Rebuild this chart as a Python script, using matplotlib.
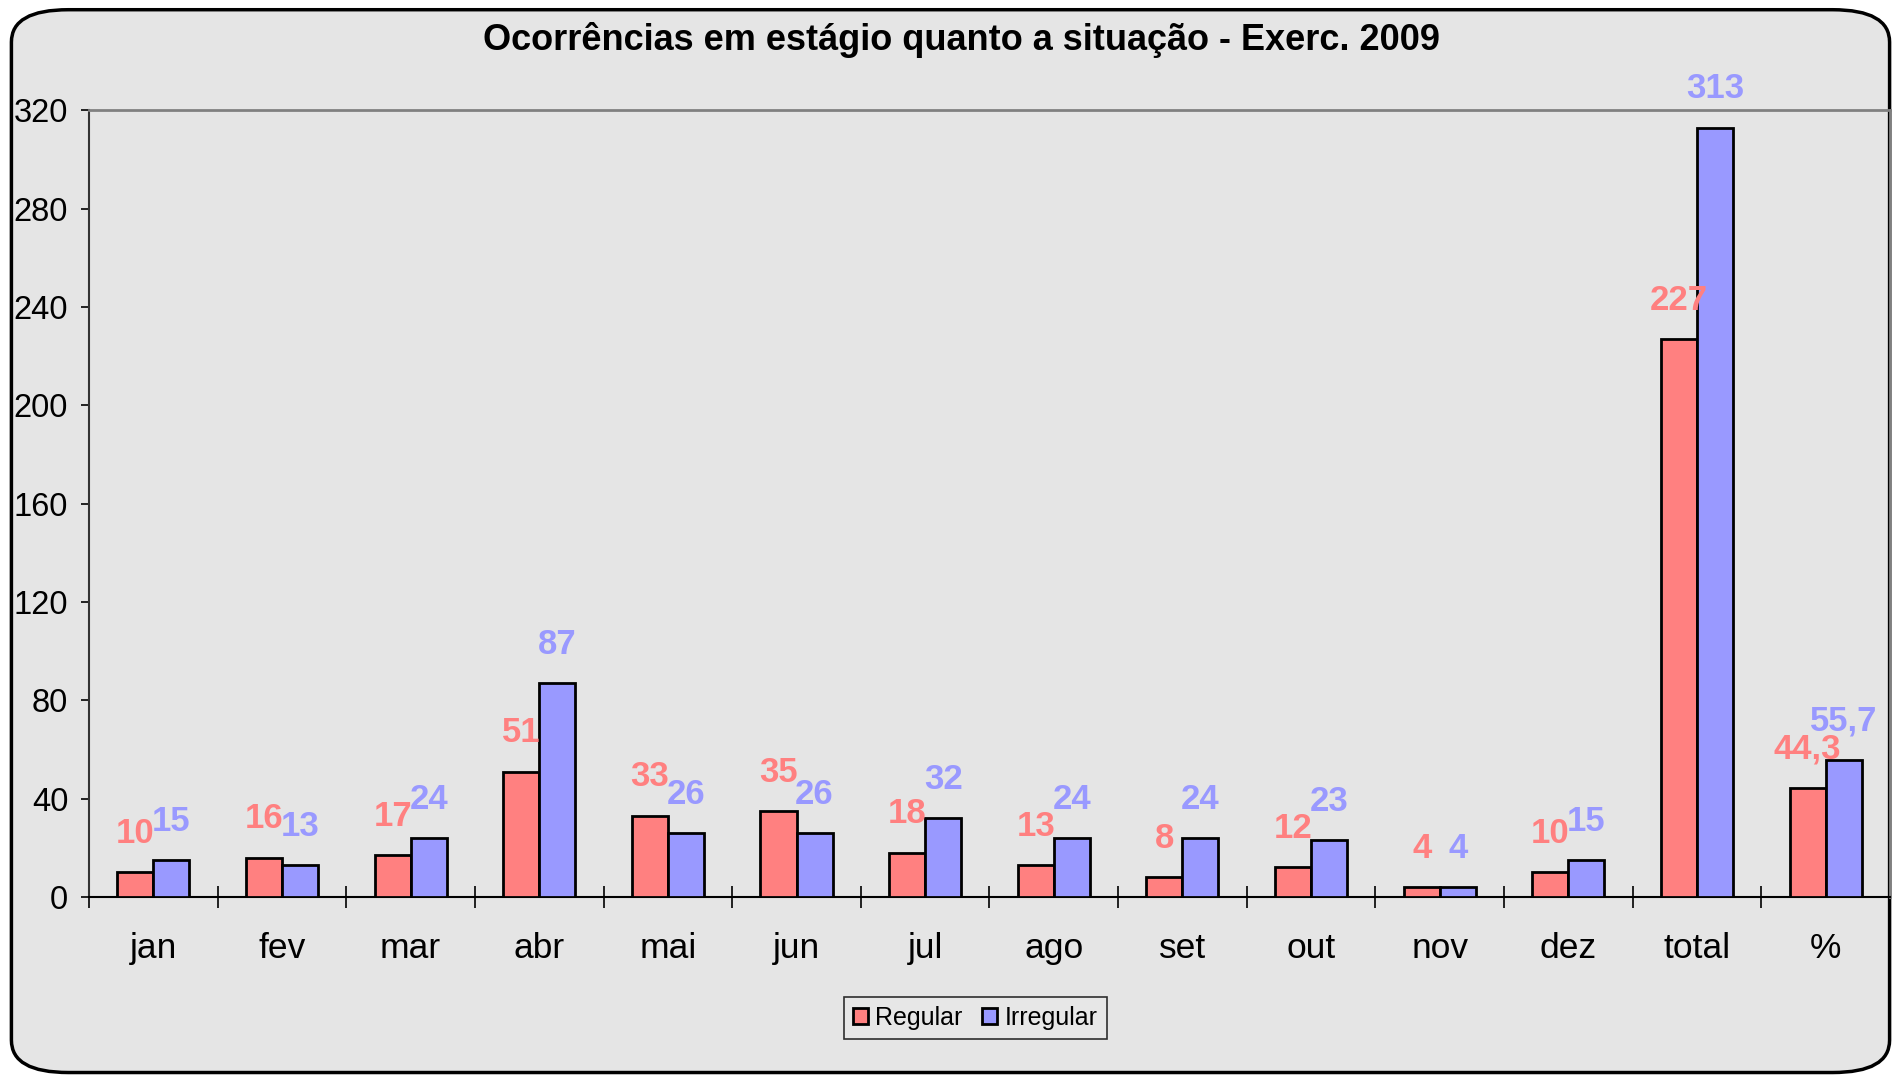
import numpy as np
import matplotlib
matplotlib.use('Agg')
import matplotlib.pyplot as plt
from matplotlib.patches import FancyBboxPatch

plt.rcParams['font.family'] = ['Liberation Sans', 'DejaVu Sans']

# data
categorias = ['jan', 'fev', 'mar', 'abr', 'mai', 'jun', 'jul', 'ago', 'set', 'out', 'nov', 'dez', 'total', '%']
regular = [10, 16, 17, 51, 33, 35, 18, 13, 8, 12, 4, 10, 227, 44.3]
irregular = [15, 13, 24, 87, 26, 26, 32, 24, 24, 23, 4, 15, 313, 55.7]
yticks = [0, 40, 80, 120, 160, 200, 240, 280, 320]

cor_reg = '#FF8080'
cor_irr = '#9999FF'

def fmt(v):
    if float(v).is_integer():
        return str(int(v))
    return ('%.1f' % v).replace('.', ',')

fig = plt.figure(figsize=(19.01, 10.79), dpi=100)
fig.patch.set_facecolor('white')

# rounded outer frame
moldura = FancyBboxPatch((0.006, 0.006), 0.988, 0.985,
                         boxstyle='round,pad=0,rounding_size=0.03',
                         transform=fig.transFigure, facecolor='#e5e5e5',
                         edgecolor='black', linewidth=2.5, zorder=-10)
fig.patches.append(moldura)

ax = fig.add_axes([0.0468, 0.1687, 0.9474, 0.7290])
ax.set_facecolor('none')
ax.set_zorder(2)

x = np.arange(len(categorias))
w = 0.28
b1 = ax.bar(x - w / 2, regular, w, color=cor_reg, edgecolor='black', linewidth=2, label='Regular', zorder=3)
b2 = ax.bar(x + w / 2, irregular, w, color=cor_irr, edgecolor='black', linewidth=2, label='Irregular', zorder=3)

for xi, v in zip(x - w / 2, regular):
    ax.annotate(fmt(v), (xi, v), xytext=(0, 28), textcoords='offset points',
                ha='center', va='center', fontsize=25, fontweight='bold', color=cor_reg, zorder=4)
for xi, v in zip(x + w / 2, irregular):
    ax.annotate(fmt(v), (xi, v), xytext=(0, 28), textcoords='offset points',
                ha='center', va='center', fontsize=25, fontweight='bold', color=cor_irr, zorder=4,
                annotation_clip=False)

ax.set_xlim(-0.5, len(categorias) - 0.5)
ax.set_ylim(0, 320)
ax.set_yticks(yticks)
ax.tick_params(axis='y', direction='out', length=6, width=1.2, labelsize=23.5, pad=9)

ax.set_xticks(x)
ax.set_xticklabels(categorias)
ax.set_xticks(np.arange(len(categorias) + 1) - 0.5, minor=True)
ax.tick_params(axis='x', which='major', length=0, labelsize=25.5, pad=25)
ax.tick_params(axis='x', which='minor', direction='inout', length=16, width=1.2)

ax.spines['top'].set_color('#808080')
ax.spines['right'].set_color('#808080')
ax.spines['top'].set_linewidth(2)
ax.spines['right'].set_linewidth(2)
ax.spines['left'].set_color('#333333')
ax.spines['bottom'].set_color('black')
ax.spines['left'].set_linewidth(1.5)
ax.spines['bottom'].set_linewidth(1.5)

fig.text(0.506, 0.963, 'Ocorrências em estágio quanto a situação - Exerc. 2009',
         ha='center', va='center', fontsize=26, fontweight='bold')

leg = fig.legend(handles=[b1, b2], loc='center', bbox_to_anchor=(0.513, 0.0565), ncol=2,
                 fontsize=18, frameon=True, fancybox=False, handlelength=0.6, handleheight=0.6,
                 handletextpad=0.3, columnspacing=0.8, borderpad=0.35)
leg.get_frame().set_edgecolor('black')
leg.get_frame().set_facecolor('#e8e8e8')
leg.get_frame().set_linewidth(1.2)

fig.savefig('out.png', dpi=100, facecolor=fig.get_facecolor())
